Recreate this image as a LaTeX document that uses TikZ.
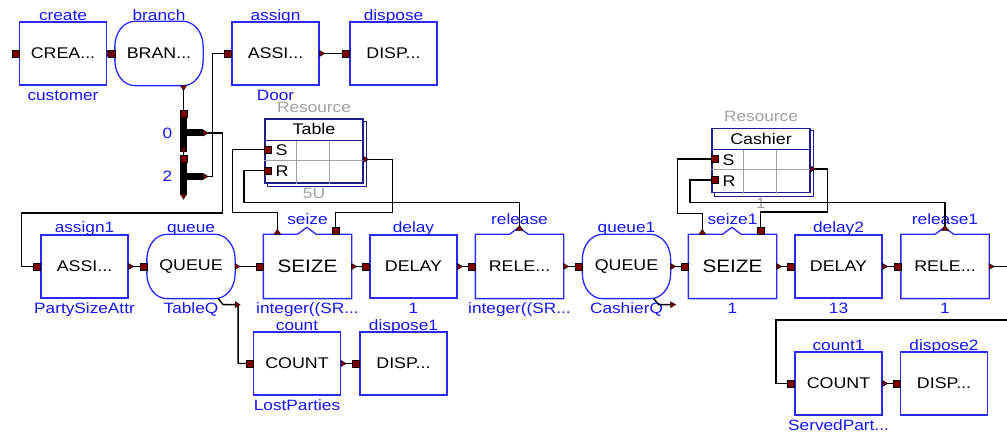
\documentclass[tikz,border=0pt]{standalone}
\usepackage{fontspec}
\setmainfont{Liberation Sans}[FakeStretch=1.15]
\usetikzlibrary{calc}
\definecolor{bblue}{RGB}{40,40,255}
\definecolor{lblue}{RGB}{20,20,255}
\definecolor{navy}{RGB}{30,30,140}
\definecolor{pred}{RGB}{128,0,0}
\definecolor{gtext}{RGB}{160,160,160}
\newcommand\inpt[1]{\filldraw[fill=pred,draw=black,line width=0.4pt] ($(#1)+(-7,-3.5)$) rectangle ($(#1)+(0,3.5)$);}
\newcommand\sqpt[1]{\filldraw[fill=pred,draw=black,line width=0.4pt] ($(#1)+(-3.5,-3.5)$) rectangle ($(#1)+(3.5,3.5)$);}
\newcommand\outpt[1]{\filldraw[fill=pred,draw=black,line width=0.4pt] ($(#1)+(0,-3)$) -- ($(#1)+(5,0)$) -- ($(#1)+(0,3)$) -- cycle;}
\newcommand\dnpt[1]{\filldraw[fill=pred,draw=black,line width=0.4pt] ($(#1)+(-3,0)$) -- ($(#1)+(0,5)$) -- ($(#1)+(3,0)$) -- cycle;}
\newcommand\uppt[1]{\filldraw[fill=pred,draw=black,line width=0.4pt] ($(#1)+(-3.5,0)$) -- ($(#1)+(0,-5)$) -- ($(#1)+(3.5,0)$) -- cycle;}
\begin{document}
\begin{tikzpicture}[x=1pt,y=-1pt,
  wire/.style={draw=black,line width=1.4pt},
  blk/.style={draw=bblue,line width=1.3pt,fill=white,minimum width=87pt,minimum height=63pt,inner sep=0pt,font=\fontsize{15.5}{16}\selectfont},
  nblk/.style={blk,draw=none,font=\fontsize{18}{18}\selectfont},
  rblk/.style={blk,draw=none},
  notch/.style={draw=bblue,line width=1.3pt},
  lab/.style={text=lblue,font=\fontsize{15}{15}\selectfont,inner sep=0pt,anchor=base},
  glab/.style={lab,text=gtext},
  res/.style={draw=navy,line width=1.2pt,fill=white,minimum width=98pt,minimum height=64pt,inner sep=0pt},
  rtxt/.style={font=\fontsize{15.5}{16}\selectfont,inner sep=0pt},
  grid/.style={draw=gtext,line width=1pt},
  swbar/.style={fill=black,minimum width=7pt,inner sep=0pt},
]
\useasboundingbox (0,0) rectangle (1007,435);

% ---------- blocks ----------
\node[blk]  (create)   at (63,53.5)    {CREA...};
\node[rblk] (branch)   at (159,53.5)   {BRAN...};
\node[blk]  (assign)   at (275.5,53.5) {ASSI...};
\node[blk]  (dispose)  at (393.5,53.5) {DISP...};
\node[blk]  (assign1)  at (84.5,266.5) {ASSI...};
\node[rblk] (queue)    at (191,266.5)  {QUEUE};
\node[nblk] (seize)    at (307.5,266.5){SEIZE};
\node[blk]  (delay)    at (413.5,266.5){DELAY};
\node[blk,draw=none] (release) at (519.5,266.5){RELE...};
\node[rblk] (queue1)   at (626.5,266.5){QUEUE};
\node[nblk] (seize1)   at (732.5,266.5){SEIZE};
\node[blk]  (delay2)   at (838.5,266.5){DELAY};
\node[blk,draw=none] (release1) at (945,266.5){RELE...};
\node[blk]  (count)    at (297,363.5)  {COUNT};
\node[blk]  (dispose1) at (403.5,363.5){DISP...};
\node[blk]  (count1)   at (838.5,383.5){COUNT};
\node[blk]  (dispose2) at (944,383.5)  {DISP...};

% notched outlines
\foreach \n in {seize,release,seize1,release1}{
  \draw[notch] (\n.north west) -- ++(34,0) -- ++(9.5,-7) -- ++(9.5,7) -- (\n.north east) -- (\n.south east) -- (\n.south west) -- cycle;
}
% rounded (elliptic-corner) outlines
\foreach \n in {branch,queue,queue1}{
  \draw[notch] ($(\n.north west)+(20,0)$) -- ($(\n.north east)+(-20,0)$)
    arc[start angle=-90,end angle=0,x radius=20,y radius=25]
    -- ($(\n.south east)+(0,-25)$)
    arc[start angle=0,end angle=90,x radius=20,y radius=25]
    -- ($(\n.south west)+(20,0)$)
    arc[start angle=90,end angle=180,x radius=20,y radius=25]
    -- ($(\n.north west)+(0,25)$)
    arc[start angle=180,end angle=270,x radius=20,y radius=25] -- cycle;
}

% ---------- labels ----------
\node[lab] (l-create)  at ($(create.north)+(0,-0.5)$)  {create};
\node[lab] (l-branch)  at ($(branch.north)+(0,-0.5)$)  {branch};
\node[lab] (l-assign)  at ($(assign.north)+(0,-0.5)$)  {assign};
\node[lab] (l-dispose) at ($(dispose.north)+(0,-0.5)$) {dispose};
\node[lab] (b-create)  at ($(create.south)+(0,15)$)    {customer};
\node[lab] (b-assign)  at ($(assign.south)+(0,15)$)    {Door};

\node[lab] (l-assign1) at ($(assign1.north)+(0,-1.5)$) {assign1};
\node[lab] (l-queue)   at ($(queue.north)+(0,-1.5)$)   {queue};
\node[lab] (l-seize)   at ($(seize.north)+(0,-10)$)    {seize};
\node[lab] (l-delay)   at ($(delay.north)+(0,-1.5)$)   {delay};
\node[lab] (l-release) at ($(release.north)+(0,-10)$)  {release};
\node[lab] (l-queue1)  at ($(queue1.north)+(0,-1.5)$)  {queue1};
\node[lab] (l-seize1)  at ($(seize1.north)+(0,-10)$)   {seize1};
\node[lab] (l-delay2)  at ($(delay2.north)+(0,-1.5)$)  {delay2};
\node[lab] (l-release1) at ($(release1.north)+(0,-10)$) {release1};
\node[lab] (b-assign1) at ($(assign1.south)+(0,15)$)   {PartySizeAttr};
\node[lab] (b-queue)   at ($(queue.south)+(0,15)$)     {TableQ};
\node[lab] (b-seize)   at ($(seize.south)+(0,15)$)     {integer((SR...};
\node[lab] (b-delay)   at ($(delay.south)+(0,15)$)     {1};
\node[lab] (b-release) at ($(release.south)+(0,15)$)   {integer((SR...};
\node[lab] (b-queue1)  at ($(queue1.south)+(0,15)$)    {CashierQ};
\node[lab] (b-seize1)  at ($(seize1.south)+(0,15)$)    {1};
\node[lab] (b-delay2)  at ($(delay2.south)+(0,15)$)    {13};
\node[lab] (b-release1) at ($(release1.south)+(0,15)$) {1};

\node[lab] (l-count)    at ($(count.north)+(0,-1)$)    {count};
\node[lab] (l-dispose1) at ($(dispose1.north)+(0,-1)$) {dispose1};
\node[lab] (b-count)    at ($(count.south)+(0,15)$)    {LostParties};
\node[lab] (l-count1)   at ($(count1.north)+(0,-1)$)   {count1};
\node[lab] (l-dispose2) at ($(dispose2.north)+(0,-1)$) {dispose2};
\node[lab] (b-count1)   at ($(count1.south)+(0,15)$)   {ServedPart...};

% ---------- resources ----------
\foreach \r/\c/\t/\u in {tbl/{(314,151)}/Table/5U, cash/{(761,160.5)}/Cashier/1}{
  \node[res] (\r) at \c {};
  \draw[navy,line width=1pt] ($(\r.north east)+(0,3)$) -- ($(\r.north east)+(3,3)$) -- ($(\r.south east)+(3,3)$) -- ($(\r.south west)+(3,3)$) -- ($(\r.south west)+(3,0)$);
  \draw[grid] ($(\r.north west)+(0,42)$) -- ($(\r.north east)+(0,42)$);
  \draw[grid] ($(\r.north west)+(32,22)$) -- ($(\r.south west)+(32,0)$);
  \draw[grid] ($(\r.north west)+(65,22)$) -- ($(\r.south west)+(65,0)$);
  \draw[navy,line width=1.2pt] ($(\r.north west)+(0,22)$) -- ($(\r.north east)+(0,22)$);
  \node[rtxt] (\r-t) at ($(\r.north)+(0,11)$) {\t};
  \node[rtxt,anchor=west] (\r-s) at ($(\r.north west)+(11,32)$) {S};
  \node[rtxt,anchor=west] (\r-r) at ($(\r.north west)+(11,53)$) {R};
  \node[glab] (\r-l) at ($(\r.north)+(0,-6)$) {Resource};
  \node[glab] (\r-u) at ($(\r.south)+(0,15)$) {\u};
  \coordinate (\r S) at ($(\r.north west)+(0,31)$);
  \coordinate (\r R) at ($(\r.north west)+(0,52)$);
  \coordinate (\r O) at ($(\r.north east)+(0,41)$);
}

% ---------- switch ----------
\node[swbar,minimum height=42pt] (sw0) at (183.5,131) {};
\node[swbar,minimum height=40pt] (sw2) at (183.5,175) {};
\fill[black] ($(sw0.east)+(0,-1.5)$) rectangle ($(sw0.east)+(16,5.5)$);
\fill[black] ($(sw2.east)+(0,-2)$) rectangle ($(sw2.east)+(16,5)$);
\coordinate (sw0o) at ($(sw0.east)+(21,2)$);
\coordinate (sw2o) at ($(sw2.east)+(21,1.5)$);
\node[lab] (n0) at (167.5,138.5) {0};
\node[lab] (n2) at (167.5,181.5) {2};

% ---------- port coordinates ----------
\coordinate (brB)  at ($(branch.south)+(24.5,0)$);
\coordinate (szTL) at ($(seize.north west)+(14,0)$);
\coordinate (szTR) at ($(seize.north west)+(72,0)$);
\coordinate (s1TL) at ($(seize1.north west)+(14,0)$);
\coordinate (s1TR) at ($(seize1.north west)+(72,0)$);
\coordinate (relT) at ($(release.north)+(0,-7)$);
\coordinate (rl1T) at ($(release1.north)+(0,-7)$);
\coordinate (qB)   at ($(queue.south east)+(3,6)$);
\coordinate (q1B)  at ($(queue1.south east)+(3,6)$);
\coordinate (offA) at (1007,266.5);
\coordinate (offB) at (1007,320);

% ---------- wires ----------
\draw[wire] (create.east) -- (branch.west);
\draw[wire] (assign.east) -- (dispose.west);
\draw[wire] (brB) -- (sw0.north);
\draw[wire] (sw0.south) -- (sw2.north);
\draw[wire] (sw0o) -- ++(14,0) -- ++(0,80) -- ++(-201,0) |- (assign1.west);
\draw[wire] (sw2o) -- ++(4,0) |- (assign.west);
\draw[wire] (assign1.east) -- (queue.west);
\draw[wire] (queue.east) -- (seize.west);
\draw[wire] (seize.east) -- (delay.west);
\draw[wire] (delay.east) -- (release.west);
\draw[wire] (release.east) -- (queue1.west);
\draw[wire] (queue1.east) -- (seize1.west);
\draw[wire] (seize1.east) -- (delay2.west);
\draw[wire] (delay2.east) -- (release1.west);
\draw[wire] (release1.east) -- (offA);
\draw[wire] ($(queue.south east)+(-17,0)$) -- ($(queue.south east)+(-12,6)$) -- (qB) |- (count.west);
\draw[wire] ($(queue1.south east)+(-17,0)$) -- ($(queue1.south east)+(-12,6)$) -- (q1B);
\draw[wire] (count.east) -- (dispose1.west);
\draw[wire] (offB) -- ++(-231,0) |- (count1.west);
\draw[wire] (count1.east) -- (dispose2.west);
% table
\draw[wire] (szTL) -- ++(0,-22) -- ++(-45,0) |- (tblS);
\draw[wire] (tblO) -- ++(29,0) -- ++(0,53) -| (szTR);
\draw[wire] (relT) -- ++(0,-25) -- ++(-275.5,0) |- (tblR);
% cashier
\draw[wire] (s1TL) -- ++(0,-21) -- ++(-25,0) |- (cashS);
\draw[wire] (cashO) -- ++(17,0) -- ++(0,43) -| (s1TR);
\draw[wire] (rl1T) -- ++(0,-25) -- ++(-255,0) |- (cashR);

% ---------- ports ----------
\foreach \n in {create,branch,assign,dispose,assign1,queue,seize,delay,release,queue1,seize1,delay2,release1,count,dispose1,count1,dispose2}{
  \inpt{\n.west}
}
\foreach \n in {create,assign,assign1,queue,seize,delay,release,queue1,seize1,delay2,release1,count,count1}{
  \outpt{\n.east}
}
\dnpt{brB}
\sqpt{$(sw0.north)+(0,3.5)$}
\sqpt{$(sw2.north)+(0,3.5)$}
\dnpt{$(sw0.south)+(0,-4)$}
\dnpt{$(sw2.south)+(0,-1)$}
\outpt{$(sw0o)+(-5,0)$}
\outpt{$(sw2o)+(-5,0)$}
\uppt{szTL}
\uppt{s1TL}
\sqpt{$(szTR)+(0,-3.5)$}
\sqpt{$(s1TR)+(0,-3.5)$}
\uppt{$(relT)+(0,3)$}
\uppt{$(rl1T)+(0,3)$}
\outpt{$(qB)+(-3,0)$}
\outpt{$(q1B)+(-3,0)$}
\foreach \r in {tbl,cash}{
  \sqpt{$(\r S)+(3.5,0)$}
  \sqpt{$(\r R)+(3.5,0)$}
  \outpt{\r O}
}
\end{tikzpicture}
\end{document}
